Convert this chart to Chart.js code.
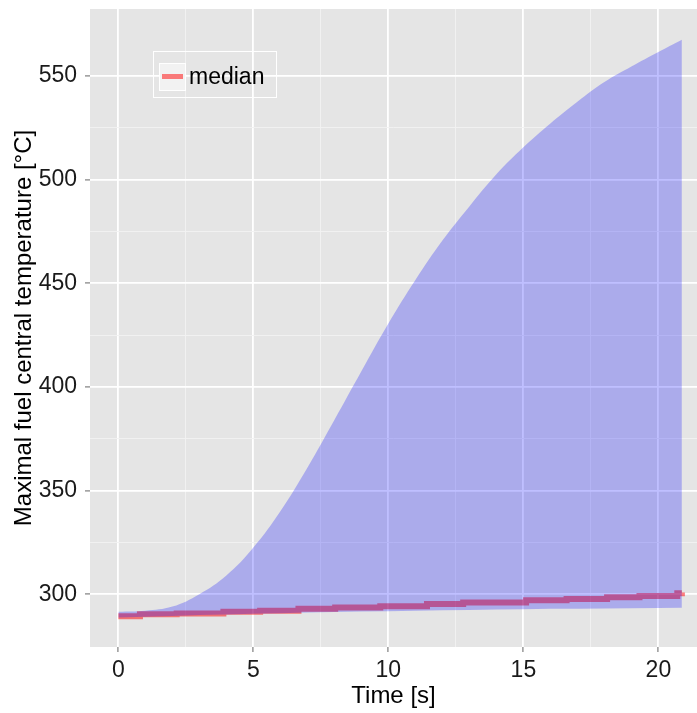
<!DOCTYPE html>
<html>
<head>
<meta charset="utf-8">
<script src="https://cdn.jsdelivr.net/npm/chart.js@4.4.1/dist/chart.umd.min.js"></script>
<style>
html, body { margin: 0; padding: 0; background: #fff; }
</style>
</head>
<body>
<canvas id="chart" width="697" height="713"></canvas>
<script>
// Envelope of maximal fuel central temperature over time
const times = [0, 1, 2, 3, 4, 5, 6, 7, 8, 9, 10, 11, 12, 13, 14, 15, 16, 17, 18, 19, 20, 20.87];
const upper = [291.6, 292.1, 294.1, 300.1, 309.1, 322.6, 340.1, 361.1, 384.1, 407.6, 430.6, 451.6, 470.6, 487.1, 502.6, 515.6, 527.1, 537.6, 547.1, 554.6, 561.6, 567.5];
const lower = [288.8, 289.2, 289.6, 290.0, 290.3, 290.6, 290.9, 291.2, 291.5, 291.7, 291.9, 292.1, 292.3, 292.5, 292.7, 292.8, 293.0, 293.1, 293.2, 293.3, 293.4, 293.5];

// Median is a step function: value holds until the next time
const medianTimes = [0, 0.8, 2.16, 3.89, 5.25, 6.67, 8.03, 9.7, 11.43, 12.77, 15.1, 16.6, 18.1, 19.3, 20.7, 20.87];
const medianValues = [289.4, 290.4, 290.8, 291.6, 292.1, 293.0, 293.7, 294.3, 295.3, 296.1, 297.1, 297.7, 298.6, 299.2, 300.5, 300.9];

const xTicks = [0, 5, 10, 15, 20];
const xMinor = [2.5, 7.5, 12.5, 17.5];
const yTicks = [300, 350, 400, 450, 500, 550];
const yMinor = [325, 375, 425, 475, 525];

const FONT = "'Liberation Sans', Arial, sans-serif";

const toPoints = (xs, ys) => xs.map((x, i) => ({ x: x, y: ys[i] }));
const isMinor = (ctx, minor) => ctx.tick && minor.includes(ctx.tick.value);

// grey panel behind the plot area
const panelBg = {
    id: 'panelBg',
    beforeDraw(chart) {
        const { ctx, chartArea: a } = chart;
        ctx.save();
        ctx.fillStyle = '#E5E5E5';
        ctx.fillRect(a.left, a.top, a.right - a.left, a.bottom - a.top);
        ctx.restore();
    }
};

// small legend box inside the panel
const medianLegend = {
    id: 'medianLegend',
    afterDraw(chart) {
        const ctx = chart.ctx;
        ctx.save();
        ctx.strokeStyle = '#FFFFFF';
        ctx.lineWidth = 1;
        ctx.strokeRect(153.5, 51.5, 123, 46);
        ctx.fillStyle = '#F2F2F2';
        ctx.fillRect(159, 63, 26, 27);
        ctx.strokeRect(159.5, 63.5, 26, 27);
        ctx.strokeStyle = 'rgba(255,0,0,0.5)';
        ctx.lineWidth = 5;
        ctx.beginPath();
        ctx.moveTo(162, 76.5);
        ctx.lineTo(183, 76.5);
        ctx.stroke();
        ctx.fillStyle = '#000';
        ctx.font = '23px ' + FONT;
        ctx.textBaseline = 'middle';
        ctx.fillText('median', 189, 78);
        ctx.restore();
    }
};

new Chart(document.getElementById('chart'), {
    type: 'line',
    data: {
        datasets: [
            {
                label: 'median',
                data: toPoints(medianTimes, medianValues),
                borderColor: 'rgba(255,0,0,0.5)',
                borderWidth: 6,
                stepped: true,
                pointRadius: 0,
                fill: false,
                order: 3
            },
            {
                label: 'upper',
                data: toPoints(times, upper),
                borderWidth: 0,
                borderColor: 'rgba(0,0,0,0)',
                backgroundColor: 'rgba(0,0,255,0.25)',
                tension: 0.4,
                pointRadius: 0,
                fill: '+1',
                order: 1
            },
            {
                label: 'lower',
                data: toPoints(times, lower),
                borderWidth: 0,
                borderColor: 'rgba(0,0,0,0)',
                pointRadius: 0,
                fill: false,
                order: 2
            }
        ]
    },
    options: {
        responsive: false,
        devicePixelRatio: 1,
        animation: false,
        layout: { padding: { top: 9, right: 0, left: 0, bottom: 0 } },
        plugins: { legend: { display: false }, tooltip: { enabled: false } },
        scales: {
            x: {
                type: 'linear',
                min: -1.05,
                max: 21.43,
                afterBuildTicks: axis => {
                    axis.ticks = xTicks.concat(xMinor).sort((a, b) => a - b).map(v => ({ value: v }));
                },
                afterFit: axis => {
                    axis.height = 66;
                    axis.paddingLeft = 0;
                    axis.paddingRight = 0;
                },
                border: { display: false },
                grid: {
                    color: ctx => isMinor(ctx, xMinor) ? '#F2F2F2' : '#FFFFFF',
                    lineWidth: ctx => isMinor(ctx, xMinor) ? 0.9 : 1.8,
                    tickColor: ctx => isMinor(ctx, xMinor) ? 'rgba(0,0,0,0)' : '#7F7F7F',
                    tickWidth: 1.2,
                    tickLength: 5
                },
                ticks: {
                    autoSkip: false,
                    maxRotation: 0,
                    padding: 5,
                    color: '#1A1A1A',
                    font: { family: FONT, size: 23 },
                    callback: v => xTicks.includes(v) ? String(v) : ''
                },
                title: {
                    display: true,
                    text: 'Time [s]',
                    color: '#000',
                    font: { family: FONT, size: 24 },
                    padding: { top: 0, bottom: 2 }
                }
            },
            y: {
                type: 'linear',
                min: 274.6,
                max: 582.3,
                afterBuildTicks: axis => {
                    axis.ticks = yTicks.concat(yMinor).sort((a, b) => a - b).map(v => ({ value: v }));
                },
                afterFit: axis => {
                    axis.width = 90;
                    axis.paddingTop = 0;
                    axis.paddingBottom = 0;
                },
                border: { display: false },
                grid: {
                    color: ctx => isMinor(ctx, yMinor) ? '#F2F2F2' : '#FFFFFF',
                    lineWidth: ctx => isMinor(ctx, yMinor) ? 0.9 : 1.8,
                    tickColor: ctx => isMinor(ctx, yMinor) ? 'rgba(0,0,0,0)' : '#7F7F7F',
                    tickWidth: 1.2,
                    tickLength: 5
                },
                ticks: {
                    autoSkip: false,
                    padding: 8,
                    color: '#1A1A1A',
                    font: { family: FONT, size: 23 },
                    callback: v => yTicks.includes(v) ? String(v) : ''
                },
                title: {
                    display: true,
                    text: 'Maximal fuel central temperature [°C]',
                    color: '#000',
                    font: { family: FONT, size: 24 },
                    padding: { top: 10, bottom: 0 }
                }
            }
        }
    },
    plugins: [panelBg, medianLegend]
});
</script>
</body>
</html>
